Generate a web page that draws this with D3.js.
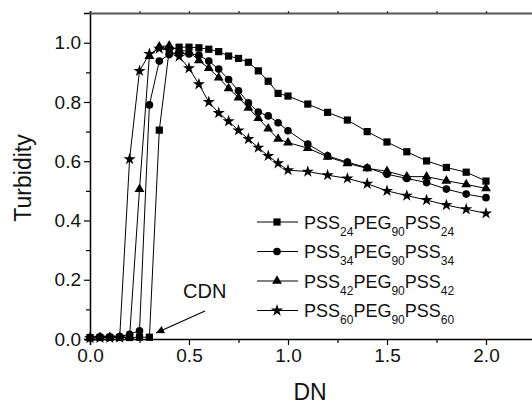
<!DOCTYPE html>
<html><head><meta charset="utf-8">
<script src="https://cdn.jsdelivr.net/npm/d3@7"></script>
<style>html,body{margin:0;padding:0;background:#fff;}svg{display:block;}</style>
</head><body>
<script>
const dn = [0,0.05,0.1,0.15,0.2,0.25,0.3,0.35,0.4,0.45,0.5,0.55,0.6,0.65,0.7,0.75,0.8,0.85,0.9,0.95,1.0,1.1,1.2,1.3,1.4,1.5,1.6,1.7,1.8,1.9,2.0];
const pss24 = [0.005,0.005,0.005,0.005,0.005,0.006,0.006,0.705,0.975,0.985,0.985,0.983,0.978,0.97,0.955,0.947,0.934,0.905,0.87,0.829,0.82,0.793,0.765,0.739,0.70,0.665,0.632,0.601,0.579,0.563,0.533];
const pss34 = [0.004,0.007,0.007,0.008,0.016,0.028,0.79,0.938,0.96,0.965,0.962,0.958,0.938,0.911,0.876,0.838,0.797,0.766,0.753,0.730,0.703,0.658,0.618,0.597,0.578,0.556,0.542,0.528,0.506,0.489,0.477];
const pss42 = [0.004,0.005,0.005,0.005,0.008,0.506,0.955,0.987,0.99,0.975,0.97,0.94,0.914,0.882,0.846,0.815,0.78,0.745,0.71,0.675,0.663,0.644,0.615,0.593,0.576,0.566,0.548,0.548,0.534,0.522,0.508];
const pss60 = [0.003,0.004,0.004,0.005,0.607,0.905,0.962,0.98,0.975,0.953,0.914,0.86,0.80,0.763,0.735,0.704,0.675,0.646,0.618,0.593,0.570,0.565,0.553,0.542,0.524,0.50,0.484,0.469,0.452,0.438,0.424];
const seriesNames = [["PSS","24","PEG","90","PSS","24"],["PSS","34","PEG","90","PSS","34"],["PSS","42","PEG","90","PSS","42"],["PSS","60","PEG","90","PSS","60"]];
const xTicks = [0,0.5,1.0,1.5,2.0];
const xMinor = [0.25,0.75,1.25,1.75,2.25];
const yTicks = [0,0.2,0.4,0.6,0.8,1.0];
const yMinor = [0.1,0.3,0.5,0.7,0.9];

const W = 532, H = 406;
const font = "'Liberation Sans', Arial, sans-serif";
const svg = d3.select("body").append("svg").attr("width", W).attr("height", H);
const x = d3.scaleLinear().domain([0, 2.25]).range([90, 535.5]);
const y = d3.scaleLinear().domain([0, 1.1]).range([339, 13.1]);

const symbols = [
  d3.symbol().type(d3.symbolSquare).size(52),
  d3.symbol().type(d3.symbolCircle).size(46),
  d3.symbol().type(d3.symbolTriangle).size(42),
  d3.symbol().type(d3.symbolStar).size(46)
];
const allSeries = [pss24, pss34, pss42, pss60];
const order = [3, 2, 0, 1];

const line = d3.line().x((d, i) => x(dn[i])).y(d => y(d));
order.forEach(k => {
  svg.append("path").datum(allSeries[k]).attr("d", line)
    .attr("fill", "none").attr("stroke", "#000").attr("stroke-width", 1);
});
order.forEach(k => {
  svg.append("g").selectAll("path").data(allSeries[k]).join("path")
    .attr("d", symbols[k]())
    .attr("transform", (d, i) => `translate(${x(dn[i])},${y(d)})`)
    .attr("fill", "#000");
});

// axes
const gx = svg.append("g").attr("transform", `translate(0,${y(0)})`)
  .call(d3.axisBottom(x).tickValues(xTicks).tickFormat(d3.format(".1f")).tickSize(6).tickPadding(4));
svg.append("g").attr("transform", `translate(0,${y(0)})`)
  .call(d3.axisBottom(x).tickValues(xMinor).tickFormat("").tickSize(4))
  .select(".domain").remove();
const gy = svg.append("g").attr("transform", `translate(${x(0)},0)`)
  .call(d3.axisLeft(y).tickValues(yTicks).tickFormat(d3.format(".1f")).tickSize(6).tickPadding(3));
svg.append("g").attr("transform", `translate(${x(0)},0)`)
  .call(d3.axisLeft(y).tickValues(yMinor).tickFormat("").tickSize(4))
  .select(".domain").remove();
const gt = svg.append("g").attr("transform", `translate(0,${y(1.1)})`)
  .call(d3.axisTop(x).tickValues(d3.range(0, 2.26, 0.25)).tickFormat("").tickSize(2));
gt.select(".domain").attr("stroke", "#555").attr("stroke-width", 2);
gt.selectAll(".tick line").attr("stroke", "#222").attr("stroke-width", 2);
[gx, gy].forEach(g => {
  g.select(".domain").attr("stroke-width", 1.5);
  g.selectAll(".tick text").attr("font-family", font).attr("font-size", 19).attr("fill", "#111");
});
svg.selectAll(".tick line").attr("stroke-width", 1.2);

// axis titles
svg.append("text").attr("x", 310).attr("y", 400).attr("text-anchor", "middle")
  .attr("font-family", font).attr("font-size", 23).attr("fill", "#111").text("DN");
svg.append("text").attr("transform", "translate(31,178) rotate(-90)").attr("text-anchor", "middle")
  .attr("font-family", font).attr("font-size", 23).attr("fill", "#111").text("Turbidity");

// CDN annotation
svg.append("text").attr("x", 183).attr("y", 298).attr("font-family", font).attr("font-size", 20).attr("fill", "#111").text("CDN");
svg.append("defs").append("marker").attr("id", "ah").attr("viewBox", "0 0 10 10")
  .attr("refX", 10).attr("refY", 5).attr("markerWidth", 10).attr("markerHeight", 8)
  .attr("markerUnits", "userSpaceOnUse").attr("orient", "auto")
  .append("path").attr("d", "M0,0L10,5L0,10Z").attr("fill", "#000");
svg.append("line").attr("x1", 205).attr("y1", 311).attr("x2", 156).attr("y2", 333)
  .attr("stroke", "#000").attr("stroke-width", 1.2).attr("marker-end", "url(#ah)");

// legend
const legY = [222, 251.5, 281, 310.5];
seriesNames.forEach((parts, k) => {
  const g = svg.append("g").attr("transform", `translate(0,${legY[k]})`);
  g.append("line").attr("x1", 257).attr("x2", 298).attr("y1", 0).attr("y2", 0).attr("stroke", "#000").attr("stroke-width", 1);
  g.append("path").attr("d", symbols[k]()).attr("transform", "translate(277,0)").attr("fill", "#000");
  const t = g.append("text").attr("x", 304).attr("y", 6.5).attr("font-family", font).attr("font-size", 18).attr("fill", "#111");
  parts.forEach((p, j) => {
    if (j % 2 === 0) t.append("tspan").attr("font-size", 18).attr("dy", j === 0 ? 0 : -7).text(p);
    else t.append("tspan").attr("font-size", 12).attr("dy", 7).text(p);
  });
});
</script>
</body></html>
